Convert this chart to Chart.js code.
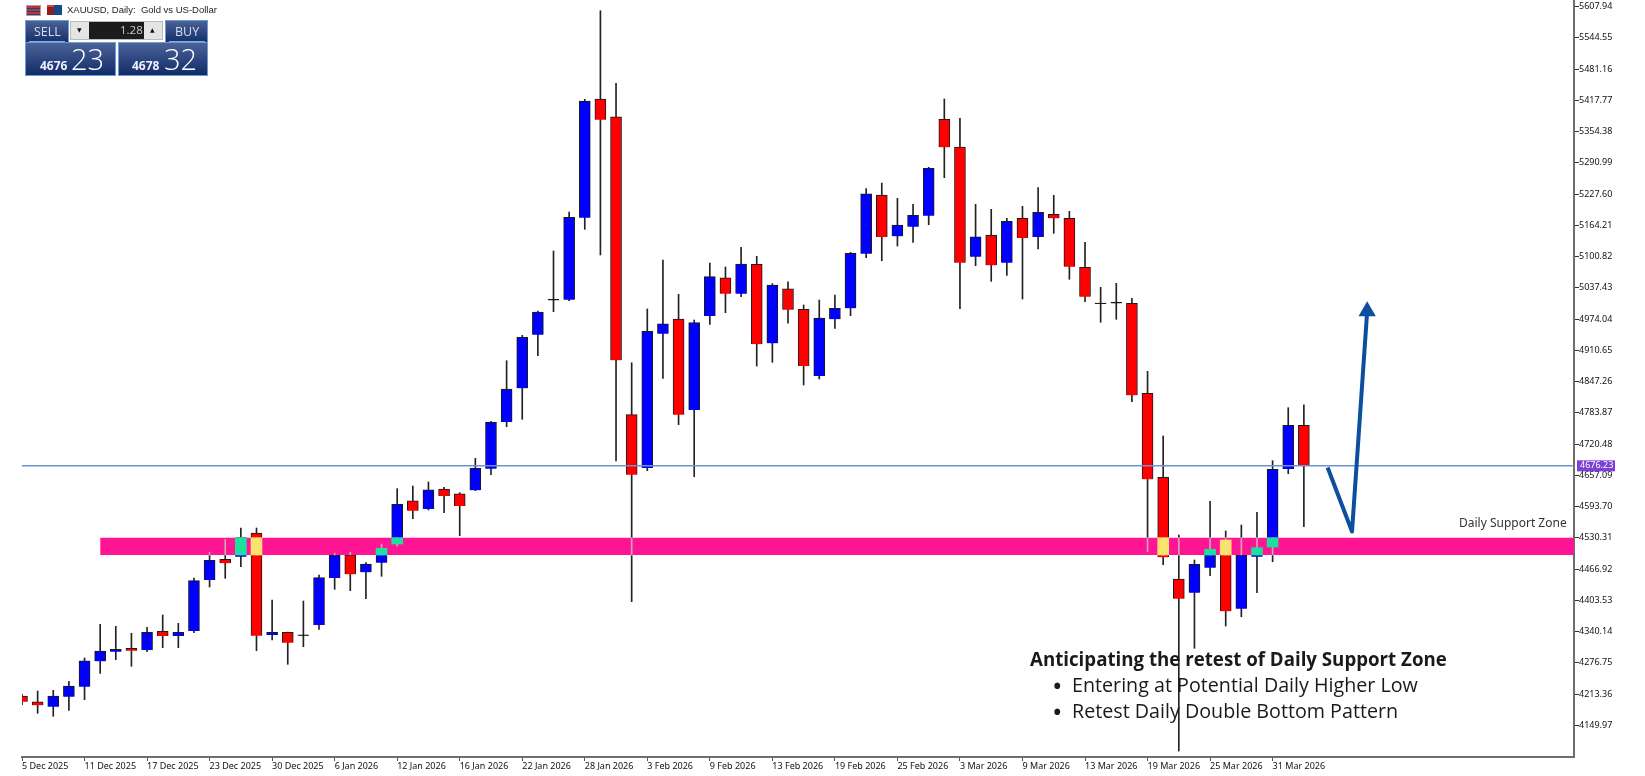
<!DOCTYPE html>
<html>
<head>
<meta charset="utf-8">
<title>XAUUSD Daily</title>
<script src="https://cdn.jsdelivr.net/npm/chart.js@4/dist/chart.umd.min.js"></script>
<style>
  html, body { margin: 0; padding: 0; background: #fff; }
  #wrap { position: relative; width: 1645px; height: 776px; overflow: hidden; }
  canvas { position: absolute; left: 0; top: 0; }
  .t { position: absolute; white-space: nowrap; }
  .note { font-family: "Open Sans", sans-serif; font-size: 19.7px; color: #1a1a1a; line-height: 26px; }
  .panel { background: linear-gradient(#4d6499, #0f2a66); box-shadow: 0 0 0 1px #6f9bd0 inset; color: #fff; font-family: "Open Sans", sans-serif; }
</style>
</head>
<body>
<div id="wrap">
  <canvas id="chart" width="1645" height="776"></canvas>

  <!-- toolbar, top left -->
  <div class="t" style="left:26px;top:5px;width:13px;height:9px;background:repeating-linear-gradient(#b23a3a 0 2px,#1f3f80 2px 3px);border:1px solid #b99"></div>
  <div class="t" style="left:47px;top:5px;width:7px;height:10px;background:#8c2020;border-top:2px solid #c44;box-sizing:border-box"></div>
  <div class="t" style="left:54px;top:5px;width:8px;height:10px;background:#134a8c"></div>
  <div class="t" style="left:67px;top:4px;font:9.5px 'Liberation Sans',sans-serif;color:#222">XAUUSD, Daily:&nbsp; Gold vs US-Dollar</div>

  <div class="t panel" style="left:25px;top:20px;width:44px;height:24px"></div>
  <div class="t panel" style="left:165px;top:20px;width:43px;height:24px"></div>
  <div class="t" style="left:34px;top:23px;font:12.5px 'Open Sans',sans-serif;color:#d6deee">SELL</div>
  <div class="t" style="left:175px;top:23px;font:12.5px 'Open Sans',sans-serif;color:#d6deee">BUY</div>
  <div class="t" style="left:29px;top:41px;width:36px;height:1px;background:#7fb0e8"></div>
  <div class="t" style="left:169px;top:41px;width:36px;height:1px;background:#7fb0e8"></div>
  <div class="t panel" style="left:25px;top:42px;width:91px;height:34px"></div>
  <div class="t panel" style="left:118px;top:42px;width:90px;height:34px"></div>
  <div class="t" style="left:70px;top:21px;width:93px;height:19px;background:#e4e4e4;border:1px solid #bbb;box-sizing:border-box"></div>
  <div class="t" style="left:89px;top:22px;width:55px;height:17px;background:#1c1c1c"></div>
  <div class="t" style="left:120px;top:22px;font:11.5px 'Open Sans',sans-serif;color:#ccc">1.28</div>
  <div class="t" style="left:77px;top:26px;font:6px 'DejaVu Sans',sans-serif;color:#111">▼</div>
  <div class="t" style="left:150px;top:26px;font:6px 'DejaVu Sans',sans-serif;color:#111">▲</div>
  <div class="t" style="left:40px;top:57px;font:bold 12px 'Open Sans',sans-serif;color:#eef">4676</div>
  <div class="t" style="left:71px;top:39px;font:300 29px 'Open Sans',sans-serif;color:#fff">23</div>
  <div class="t" style="left:132px;top:57px;font:bold 12px 'Open Sans',sans-serif;color:#eef">4678</div>
  <div class="t" style="left:164px;top:39px;font:300 29px 'Open Sans',sans-serif;color:#fff">32</div>

  <!-- annotations -->
  <div class="t" style="left:1459px;top:514px;font:12px 'Noto Sans',sans-serif;color:#333">Daily Support Zone</div>
  <div class="t note" style="left:1030px;top:646px;font-weight:700;font-size:18.7px">Anticipating the retest of Daily Support Zone</div>
  <div class="t note" style="left:1052px;top:672px;font-size:28px">•</div>
  <div class="t note" style="left:1072px;top:672px">Entering at Potential Daily Higher Low</div>
  <div class="t note" style="left:1052px;top:698px;font-size:28px">•</div>
  <div class="t note" style="left:1072px;top:698px">Retest Daily Double Bottom Pattern</div>
</div>

<script>
// candle prices, oldest first
const opens = [4209.4,4197.8,4187.7,4208,4228.3,4279.8,4299.3,4306.2,4302.7,4340.6,4331.1,4341.2,4444.7,4486.7,4491.9,4540,4333.1,4338.6,4331.7,4353.4,4448.7,4495.4,4460.3,4479.8,4517.7,4605.5,4588.7,4629.3,4619.7,4626.6,4670.4,4765.2,4833.5,4942.2,5012,5013.2,5179.5,5420.3,5384.4,4780,4671.9,4944.3,4974.1,4789.5,4980.2,5057.8,5025.4,5085,4924.8,5035.5,4993.7,4858.5,4973.5,4995.8,5106.5,5225.6,5141.8,5161.3,5183.6,5379.1,5322.9,5100.4,5144.4,5088.3,5178.3,5140.4,5186.4,5178.3,5078.9,5004.5,5005.9,5005.9,4823.4,4653,4446.7,4418.9,4469.6,4525.8,4386.5,4491.9,4511.6,4669.8,4758.5];
const highs = [4213,4219.5,4221,4239.2,4286.5,4354.8,4350.8,4336.6,4348.7,4373.7,4356.9,4448.7,4500.9,4527.2,4550.2,4550.2,4404.1,4339,4402.1,4454.8,4499.5,4500.9,4479.8,4517.7,4629.9,4635.3,4643.5,4632.7,4621.8,4691.5,4766.6,4889.5,4941,4990.3,5112,5191.1,5419.7,5599.4,5452.1,4885.4,4994.4,5093.7,5024.2,4972,5087.7,5079.5,5119.5,5101.2,5045.7,5049.7,5002.5,5012.6,5022.8,5109.4,5238.4,5249.9,5218.9,5206.7,5281.8,5420.3,5381.2,5206.7,5196.6,5178.3,5202.7,5240.4,5225,5192.5,5129.6,5038.4,5046.5,5016.1,4868,4736.8,4536,4485.3,4604.3,4544.1,4556.2,4582,4686.7,4794.2,4800.2];
const lows = [4192,4174.3,4168.2,4180.4,4201.9,4255.4,4283,4269.6,4299.3,4307.4,4307.4,4337.8,4430.5,4448.1,4471.7,4301.3,4323,4273.7,4309.4,4344.7,4425.8,4423,4406.8,4452.2,4513.6,4569,4586.7,4581.2,4534.5,4626,4658.3,4755.6,4770.6,4899.6,4988.9,5011.2,5156,5103.9,4686.1,4400.7,4666.4,4853.8,4759.7,4654.2,4963.3,4986.8,5019.3,4878.7,4886.2,4965.4,4840.2,4852.4,4955.2,4980.8,5098.4,5092.3,5122.1,5129.6,5165.3,5260.7,4995,5082.2,5050.5,5062.7,5014.6,5116.1,5147.9,5054.6,5009.2,4967.4,4973.5,4806.3,4502.1,4475.7,4097.8,4306.2,4453.4,4351.4,4370.2,4418.9,4481.8,4660.3,4552.8];
const closes = [4197.8,4190.5,4209.4,4229.7,4281,4300.7,4304.1,4301.3,4338.6,4331.1,4338.6,4443.3,4484.6,4478.6,4530.5,4331.7,4338.6,4317.5,4331.7,4449.4,4495.4,4456.2,4477.1,4509,4598.2,4585.2,4627.8,4615.1,4594.8,4671.2,4764.5,4832.1,4937,4988.3,5012,5180.3,5416.2,5378.3,4890.3,4658.3,4949.1,4964.5,4780,4966.6,5059.9,5025.4,5085.6,4922.8,5043,4992.9,4878.7,4976.1,4995.8,5107.3,5228.2,5140.4,5164.7,5184.4,5279.7,5322.3,5088.3,5141,5083,5172.2,5138.4,5190.5,5178.3,5080.2,5019.3,5004.5,5005.9,4819.3,4648.9,4490.7,4406.8,4476.5,4507,4381.2,4495.4,4510.2,4669.2,4758.5,4676.23];

const dateLabels = ['5 Dec 2025','11 Dec 2025','17 Dec 2025','23 Dec 2025','30 Dec 2025','6 Jan 2026','12 Jan 2026','16 Jan 2026','22 Jan 2026','28 Jan 2026','3 Feb 2026','9 Feb 2026','13 Feb 2026','19 Feb 2026','25 Feb 2026','3 Mar 2026','9 Mar 2026','13 Mar 2026','19 Mar 2026','25 Mar 2026','31 Mar 2026'];
const dateIndex = [0,4,8,12,16,20,24,28,32,36,40,44,48,52,56,60,64,68,72,76,80];
const priceTicks = [5607.94,5544.55,5481.16,5417.77,5354.38,5290.99,5227.60,5164.21,5100.82,5037.43,4974.04,4910.65,4847.26,4783.87,4720.48,4657.09,4593.70,4530.31,4466.92,4403.53,4340.14,4276.75,4213.36,4149.97];

const lastPrice = 4676.23;
const zoneTop = 4530.5;
const zoneBottom = 4495.4;
const zoneStart = 5;
// last point repeated so the head's radius does not pad the chart area
const arrowX = [83.52, 85.08, 86.05, 86.05];
const arrowY = [4673, 4543, 4990, 4990];

const xMax = 99.28;
const yMin = 4085.7;
const yMax = 5621.12;

const isUp = opens.map((o, i) => closes[i] >= o);
const wicks = lows.map((l, i) => ({ x: i, y: [l, highs[i]] }));
const bodies = opens.map((o, i) => ({ x: i, y: [o, closes[i]] }));
const bodyColors = opens.map((o, i) => o === closes[i] ? '#111' : (isUp[i] ? '#0000ff' : '#ff0000'));

// the zone is xor-painted in MT4: what sits under it changes colour
const overlapBodies = [];
const overlapColors = [];
const overlapWicks = [];
opens.forEach((o, i) => {
  const hi = Math.min(Math.max(o, closes[i]), zoneTop);
  const lo = Math.max(Math.min(o, closes[i]), zoneBottom);
  if (hi > lo && i >= zoneStart) {
    overlapBodies.push({ x: i, y: [lo, hi] });
    overlapColors.push(isUp[i] ? '#1be0a0' : '#f9e26e');
  }
  const wHi = Math.min(highs[i], zoneTop);
  const wLo = Math.max(lows[i], zoneBottom);
  if (wHi > wLo && i >= zoneStart) overlapWicks.push({ x: i, y: [wLo, wHi] });
});

const priceTag = {
  id: 'priceTag',
  afterDraw(chart) {
    const ctx = chart.ctx;
    const y = chart.scales.y.getPixelForValue(lastPrice);
    ctx.save();
    ctx.fillStyle = '#7d3fd4';
    ctx.fillRect(1577, y - 5.5, 38, 11);
    ctx.fillStyle = '#fff';
    ctx.font = "9px 'Noto Sans', sans-serif";
    ctx.textAlign = 'left';
    ctx.textBaseline = 'middle';
    ctx.fillText(lastPrice.toFixed(2), 1580, y);
    ctx.restore();
  }
};

new Chart(document.getElementById('chart').getContext('2d'), {
  type: 'bar',
  data: {
    datasets: [
      { data: wicks, backgroundColor: '#222', barThickness: 1, grouped: false, order: 7 },
      { data: bodies, backgroundColor: bodyColors, borderColor: '#1a1a1a', borderWidth: 1,
        barThickness: 11, minBarLength: 1, grouped: false, order: 6 },
      { type: 'line', data: [{ x: 0, y: lastPrice }, { x: xMax, y: lastPrice }], borderColor: '#6d92cf', borderWidth: 1.5,
        pointRadius: 0, order: 5 },
      { type: 'line', data: [{ x: zoneStart, y: zoneTop }, { x: xMax, y: zoneTop }], borderWidth: 0, pointRadius: 0,
        backgroundColor: '#ff1493', fill: { value: zoneBottom }, order: 4 },
      { data: overlapWicks, backgroundColor: '#c9a6b8', barThickness: 1, grouped: false, order: 3 },
      { data: overlapBodies, backgroundColor: overlapColors, barThickness: 11, grouped: false, order: 2 },
      { type: 'line', data: arrowX.map((x, i) => ({ x, y: arrowY[i] })), borderColor: '#0b4f9e', borderWidth: 4, borderJoinStyle: 'round',
        pointRadius: [0, 0, 10, 0], pointStyle: 'triangle', pointBackgroundColor: '#0b4f9e', pointBorderWidth: 0, order: 1 }
    ]
  },
  options: {
    responsive: false,
    animation: false,
    layout: { padding: { left: 22, top: 0, right: 0, bottom: 0 } },
    plugins: { legend: { display: false }, tooltip: { enabled: false } },
    scales: {
      x: {
        type: 'linear', min: 0, max: xMax, offset: false,
        grid: { offset: false, drawOnChartArea: false, tickLength: 4, tickColor: '#555' },
        border: { color: '#6e6e6e', width: 2 },
        ticks: {
          autoSkip: false, maxRotation: 0, align: 'start', padding: 0, color: '#111',
          font: { family: "'Noto Sans', sans-serif", size: 9 },
          callback: (v, i) => dateLabels[i]
        },
        afterBuildTicks: s => { s.ticks = dateIndex.map(v => ({ value: v })); },
        afterFit: s => { s.height = 19; s.paddingLeft = 0; s.paddingRight = 0; }
      },
      y: {
        type: 'linear', position: 'right', min: yMin, max: yMax,
        grid: { drawOnChartArea: false, tickLength: 5, tickColor: '#333' },
        border: { color: '#6e6e6e', width: 2 },
        ticks: {
          autoSkip: false, padding: 0, color: '#111',
          font: { family: "'Noto Sans', sans-serif", size: 9 },
          callback: v => v.toFixed(2)
        },
        afterBuildTicks: s => { s.ticks = priceTicks.map(v => ({ value: v })); },
        afterFit: s => { s.width = 71; s.paddingTop = 0; s.paddingBottom = 0; }
      }
    }
  },
  plugins: [priceTag]
});
</script>
</body>
</html>
